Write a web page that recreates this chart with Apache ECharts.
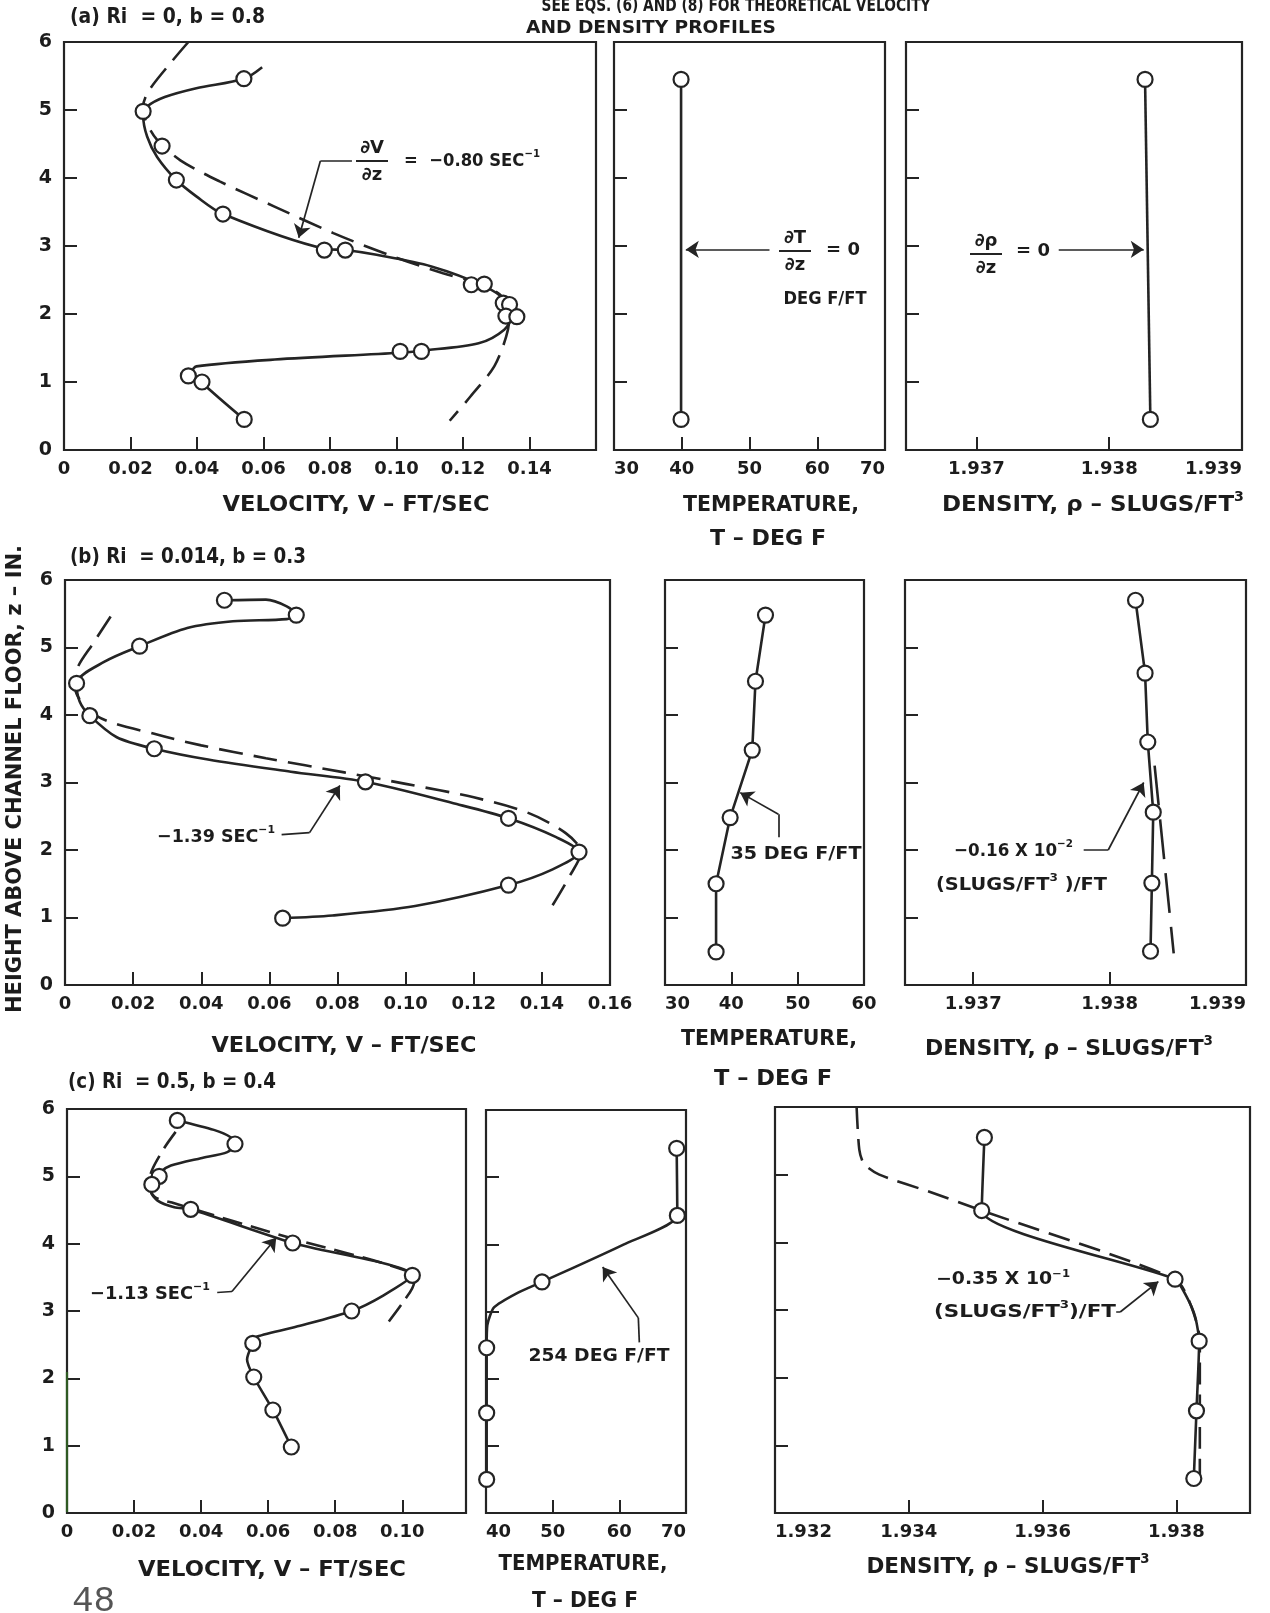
<!DOCTYPE html>
<html>
<head>
<meta charset="utf-8">
<script src="https://cdn.jsdelivr.net/npm/echarts@6/dist/echarts.min.js"></script>
<style>
  html, body { margin: 0; padding: 0; background: #ffffff; }
  #chart { width: 1270px; height: 1613px; }
</style>
</head>
<body>
<div id="chart"></div>
<script>
// Stratified channel flow profiles: velocity, temperature and density versus
// height above the channel floor (inches). Points are measurements, solid lines
// are faired through them, dashed lines are the theoretical profiles.

// ---------- (a) Ri = 0, b = 0.8 ----------
const aVelPoints = [[0.0541,5.46],[0.0238,4.98],[0.0295,4.47],[0.0338,3.97],[0.0478,3.47],[0.0783,2.94],[0.0846,2.94],[0.1225,2.43],[0.1264,2.44],[0.1321,2.16],[0.1340,2.14],[0.1329,1.97],[0.1362,1.96],[0.1011,1.45],[0.1075,1.45],[0.0374,1.09],[0.0415,1.00],[0.0542,0.45]];
const aVelFaired = [[0.0596,5.63],[0.0541,5.46],[0.0398,5.32],[0.0303,5.19],[0.0250,5.05],[0.0238,4.92],[0.0250,4.61],[0.0280,4.31],[0.0338,3.97],[0.0398,3.73],[0.0478,3.47],[0.0783,2.96],[0.0846,2.94],[0.0940,2.87],[0.1105,2.70],[0.1264,2.41],[0.1330,2.19],[0.1348,1.99],[0.1324,1.77],[0.1247,1.57],[0.1075,1.46],[0.1011,1.43],[0.0634,1.33],[0.0398,1.23],[0.0386,1.16],[0.0415,0.99],[0.0542,0.45]];
const aVelTheory = [[0.0374,6.00],[0.0327,5.73],[0.0256,5.29],[0.0238,5.05],[0.0245,4.85],[0.0280,4.56],[0.0350,4.26],[0.0468,3.95],[0.0633,3.58],[0.0810,3.19],[0.0987,2.85],[0.1140,2.60],[0.1247,2.45],[0.1317,2.26],[0.1340,1.97],[0.1330,1.67],[0.1294,1.23],[0.1223,0.79],[0.1160,0.43]];
const aTempPoints = [[39.9,5.45],[39.9,0.45]];
const aDensPoints = [[1.93827,5.45],[1.93831,0.45]];

// ---------- (b) Ri = 0.014, b = 0.3 ----------
const bVelPoints = [[0.0468,5.70],[0.0679,5.48],[0.0219,5.02],[0.0034,4.47],[0.0073,3.99],[0.0262,3.50],[0.0882,3.01],[0.1302,2.47],[0.1509,1.97],[0.1302,1.48],[0.0639,0.99]];
const bVelFaired = [[0.0468,5.70],[0.0590,5.71],[0.0651,5.61],[0.0679,5.48],[0.0651,5.42],[0.0493,5.39],[0.0359,5.29],[0.0219,5.02],[0.0116,4.79],[0.0034,4.47],[0.0043,4.20],[0.0073,3.99],[0.0152,3.67],[0.0262,3.50],[0.0420,3.34],[0.0663,3.16],[0.0882,3.01],[0.1150,2.68],[0.1302,2.47],[0.1442,2.19],[0.1509,1.97],[0.1430,1.71],[0.1302,1.48],[0.1028,1.17],[0.0785,1.03],[0.0639,0.99]];
const bVelTheory = [[0.0134,5.46],[0.0085,5.08],[0.0034,4.66],[0.0030,4.40],[0.0095,3.98],[0.0270,3.71],[0.0400,3.55],[0.0590,3.36],[0.0820,3.15],[0.1000,2.98],[0.1200,2.78],[0.1360,2.55],[0.1470,2.25],[0.1515,1.97],[0.1480,1.60],[0.1430,1.17]];
const bTempPoints = [[45.15,5.48],[43.64,4.50],[43.15,3.48],[39.82,2.48],[37.70,1.50],[37.70,0.49]];
const bDensPoints = [[1.93819,5.70],[1.93826,4.62],[1.93828,3.60],[1.93832,2.56],[1.93831,1.51],[1.93830,0.50]];
const bDensTheory = [[1.93833,3.25],[1.93847,0.47]];

// ---------- (c) Ri = 0.5, b = 0.4 ----------
const cVelPoints = [[0.0329,5.83],[0.0501,5.48],[0.0275,5.00],[0.0253,4.88],[0.0369,4.51],[0.0673,4.01],[0.1030,3.53],[0.0849,3.00],[0.0554,2.52],[0.0557,2.02],[0.0614,1.53],[0.0669,0.98]];
const cVelFaired = [[0.0329,5.83],[0.0438,5.69],[0.0488,5.58],[0.0501,5.48],[0.0478,5.36],[0.0399,5.27],[0.0310,5.16],[0.0278,5.06],[0.0270,4.95],[0.0253,4.88],[0.0250,4.77],[0.0270,4.64],[0.0320,4.54],[0.0369,4.51],[0.0673,4.01],[0.1030,3.53],[0.0943,3.23],[0.0849,3.00],[0.0695,2.78],[0.0567,2.62],[0.0554,2.52],[0.0537,2.28],[0.0557,2.02],[0.0614,1.53],[0.0669,0.98]];
const cVelTheory = [[0.0324,5.66],[0.0290,5.42],[0.0255,5.11],[0.0245,4.92],[0.0260,4.70],[0.0320,4.60],[0.0670,4.08],[0.1010,3.60],[0.1035,3.42],[0.1005,3.15],[0.0953,2.80]];
const cTempPoints = [[68.6,5.43],[68.7,4.43],[48.4,3.44],[40.1,2.46],[40.1,1.49],[40.1,0.50]];
const cTempFaired = [[68.6,5.43],[68.7,4.43],[60.7,4.00],[48.4,3.44],[44.6,3.27],[41.2,3.06],[40.2,2.80],[40.1,2.46],[40.1,1.49],[40.1,0.50]];
const cDensPoints = [[1.93513,5.55],[1.93509,4.47],[1.93798,3.455],[1.93834,2.54],[1.93830,1.51],[1.93826,0.51]];
const cDensFaired = [[1.93513,5.55],[1.93509,4.47],[1.93798,3.455],[1.93815,3.20],[1.93828,2.90],[1.93834,2.54],[1.93830,1.51],[1.93826,0.51]];
const cDensTheory = [[1.93322,6.00],[1.93326,5.37],[1.93333,5.16],[1.93356,5.00],[1.93433,4.74],[1.93509,4.47],[1.93798,3.455],[1.93822,3.06],[1.93835,2.54],[1.93835,0.55]];

// ---------- axis ticks and tick labels ----------
const heightTicks = [1, 2, 3, 4, 5];
const heightLabels = [0, 1, 2, 3, 4, 5, 6];
const velTicksAB = [0.02, 0.04, 0.06, 0.08, 0.10, 0.12, 0.14];
const velLabelsA = [0, 0.02, 0.04, 0.06, 0.08, 0.10, 0.12, 0.14];
const velLabelsB = [0, 0.02, 0.04, 0.06, 0.08, 0.10, 0.12, 0.14, 0.16];
const velTicksC = [0.02, 0.04, 0.06, 0.08, 0.10];
const velLabelsC = [0, 0.02, 0.04, 0.06, 0.08, 0.10];
const tempTicksA = [40, 50, 60];
const tempLabelsA = [30, 40, 50, 60, 70];
const tempTicksB = [40, 50];
const tempLabelsB = [30, 40, 50, 60];
const tempTicksC = [50, 60];
const tempLabelsC = [40, 50, 60, 70];
const densTicksAB = [1.937, 1.938];
const densLabelsAB = [1.937, 1.938, 1.939];
const densTicksC = [1.934, 1.936, 1.938];
const densLabelsC = [1.932, 1.934, 1.936, 1.938];

// ---------- styling ----------
const INK = '#242424';
const TEXT = '#1c1c1c';
const FAMILY = '"DejaVu Sans", Lato, sans-serif';
const font = (size, weight) => (weight || 'bold') + ' ' + size + 'px ' + FAMILY;

// panel boxes: [left, top, width, height]
const boxes = [
  [64, 42, 532, 408], [614, 42, 271, 408], [906, 42, 336, 408],
  [65, 580, 545, 405], [665, 580, 199, 405], [905, 580, 341, 405],
  [67, 1109, 399, 404], [486, 1110, 200, 403], [775, 1107, 475, 406]
];

const fmtVel = v => (Math.abs(v) < 1e-9 ? '0' : v.toFixed(2));
const fmtTemp = v => String(Math.round(v));
const fmtDens = v => v.toFixed(3);

const xSpecs = [
  { min: 0, max: 0.16, ticks: velTicksAB, labels: velLabelsA, fmt: fmtVel },
  { min: 30, max: 70, ticks: tempTicksA, labels: tempLabelsA, fmt: fmtTemp, alignMin: 'left', alignMax: 'right' },
  { min: 1.93647, max: 1.939, ticks: densTicksAB, labels: densLabelsAB, fmt: fmtDens, alignMax: 'right' },
  { min: 0, max: 0.16, ticks: velTicksAB, labels: velLabelsB, fmt: fmtVel },
  { min: 30, max: 60, ticks: tempTicksB, labels: tempLabelsB, fmt: fmtTemp, alignMin: 'left' },
  { min: 1.9365, max: 1.939, ticks: densTicksAB, labels: densLabelsAB, fmt: fmtDens, alignMax: 'right' },
  { min: 0, max: 0.119, ticks: velTicksC, labels: velLabelsC, fmt: fmtVel },
  { min: 40, max: 70, ticks: tempTicksC, labels: tempLabelsC, fmt: fmtTemp, alignMin: 'left', alignMax: 'right' },
  { min: 1.932, max: 1.9391, ticks: densTicksC, labels: densLabelsC, fmt: fmtDens, alignMin: 'left' }
];
const showHeightLabels = [true, false, false, true, false, false, true, false, false];

const grids = boxes.map(b => ({
  left: b[0], top: b[1], width: b[2], height: b[3],
  show: true, borderColor: INK, borderWidth: 2.2, backgroundColor: 'transparent',
  containLabel: false, outerBoundsMode: 'none'
}));

const xAxes = xSpecs.map((s, i) => ({
  type: 'value', gridIndex: i, min: s.min, max: s.max,
  axisLine: { show: false }, splitLine: { show: false },
  axisTick: { show: true, inside: true, length: 13, customValues: s.ticks, lineStyle: { color: INK, width: 2 } },
  axisLabel: {
    show: true, customValues: s.labels, formatter: s.fmt, margin: 10,
    color: TEXT, fontFamily: FAMILY, fontWeight: 'bold', fontSize: 18,
    alignMinLabel: s.alignMin || 'center', alignMaxLabel: s.alignMax || 'center'
  }
}));

const yAxes = boxes.map((b, i) => ({
  type: 'value', gridIndex: i, min: 0, max: 6,
  axisLine: { show: false }, splitLine: { show: false },
  axisTick: { show: true, inside: true, length: 13, customValues: heightTicks, lineStyle: { color: INK, width: 2 } },
  axisLabel: {
    show: showHeightLabels[i], customValues: heightLabels, margin: 12,
    color: TEXT, fontFamily: FAMILY, fontWeight: 'bold', fontSize: 19
  }
}));

// ---------- series helpers ----------
function curve(g, data, smooth, dash) {
  return {
    type: 'line', xAxisIndex: g, yAxisIndex: g, data: data,
    smooth: smooth, symbol: 'none', showSymbol: false, silent: true, z: 2,
    lineStyle: { color: INK, width: 2.6, type: dash || 'solid', opacity: 1 }
  };
}
function dots(g, data) {
  return {
    type: 'scatter', xAxisIndex: g, yAxisIndex: g, data: data, silent: true, z: 5,
    symbol: 'circle', symbolSize: 15,
    itemStyle: { color: '#ffffff', borderColor: INK, borderWidth: 2.2, opacity: 1 }
  };
}
function legs(g, segs) {
  return {
    type: 'lines', coordinateSystem: 'cartesian2d', xAxisIndex: g, yAxisIndex: g,
    silent: true, z: 3, symbol: ['none', 'none'],
    lineStyle: { color: INK, width: 1.7, opacity: 1, curveness: 0 },
    data: segs.map(c => ({ coords: c }))
  };
}
function arrows(g, segs) {
  return {
    type: 'lines', coordinateSystem: 'cartesian2d', xAxisIndex: g, yAxisIndex: g,
    silent: true, z: 3, symbol: ['none', 'arrow'], symbolSize: 13,
    lineStyle: { color: INK, width: 1.7, opacity: 1, curveness: 0 },
    itemStyle: { color: INK },
    data: segs.map(c => ({ coords: c }))
  };
}

const series = [
  // (a)
  curve(0, aVelTheory, 0.3, [24, 11]), curve(0, aVelFaired, 0.3), dots(0, aVelPoints),
  legs(0, [[[0.0866, 4.25], [0.0771, 4.25]]]), arrows(0, [[[0.0771, 4.25], [0.0706, 3.12]]]),
  curve(1, aTempPoints, false), dots(1, aTempPoints),
  arrows(1, [[[52.95, 2.95], [40.6, 2.95]]]),
  curve(2, aDensPoints, false), dots(2, aDensPoints),
  arrows(2, [[[1.93762, 2.95], [1.93826, 2.95]]]),
  // (b)
  curve(3, bVelTheory, 0.3, [24, 11]), curve(3, bVelFaired, 0.3), dots(3, bVelPoints),
  legs(3, [[[0.0636, 2.228], [0.0718, 2.258]]]), arrows(3, [[[0.0718, 2.258], [0.0807, 2.956]]]),
  curve(4, bTempPoints, false), dots(4, bTempPoints),
  legs(4, [[[47.1, 2.19], [47.1, 2.53]]]), arrows(4, [[[47.1, 2.53], [41.34, 2.85]]]),
  curve(5, bDensTheory, false, [40, 14]), curve(5, bDensPoints, false), dots(5, bDensPoints),
  legs(5, [[[1.93781, 2.0], [1.93799, 2.0]]]), arrows(5, [[[1.93799, 2.0], [1.93825, 3.0]]]),
  // (c)
  curve(6, cVelTheory, 0.3, [20, 9]), curve(6, cVelFaired, 0.25), dots(6, cVelPoints),
  legs(6, [[[0.0448, 3.275], [0.0492, 3.29]]]), arrows(6, [[[0.0492, 3.29], [0.0624, 4.087]]]),
  curve(7, cTempFaired, 0.2), dots(7, cTempPoints),
  legs(7, [[[63.0, 2.54], [62.85, 2.905]]]), arrows(7, [[[62.85, 2.905], [57.5, 3.664]]]),
  curve(8, cDensTheory, 0.25, [22, 10]), curve(8, cDensFaired, 0.2), dots(8, cDensPoints),
  legs(8, [[[1.93710, 2.97], [1.93716, 2.97]]]), arrows(8, [[[1.93716, 2.97], [1.93773, 3.42]]])
];

// ---------- text helpers ----------
const measureCtx = document.createElement('canvas').getContext('2d');
function widthOf(str, f) { measureCtx.font = f; return measureCtx.measureText(str).width; }

function label(x, y, str, size, align, extra) {
  return Object.assign({
    type: 'text', x: x, y: y, z: 20, silent: true,
    style: {
      text: str, font: font(size), fill: TEXT,
      textAlign: align || 'left', textVerticalAlign: 'middle',
      align: align || 'left', verticalAlign: 'middle'
    }
  }, extra || {});
}
// text at a given size, stretched or squeezed horizontally to span the given width
function fitLabel(x, y, str, size, span, align, extra) {
  const k = span / widthOf(str, font(size));
  return label(x, y, str, size, align, Object.assign({ scaleX: k }, extra || {}));
}
// runs: [[text, relative size, relative raise]] laid out left to right, scaled to span
function fitRun(x, y, parts, size, span, align) {
  const sizes = parts.map(p => size * p[1]);
  const widths = parts.map((p, i) => widthOf(p[0], font(sizes[i])));
  const total = widths.reduce((a, b) => a + b, 0);
  const k = span ? span / total : 1;
  let cx = align === 'center' ? x - total * k / 2 : (align === 'right' ? x - total * k : x);
  const out = [];
  parts.forEach((p, i) => {
    out.push(label(cx, y - (p[2] || 0) * size, p[0], sizes[i], 'left', { scaleX: k }));
    cx += widths[i] * k;
  });
  return out;
}
function fraction(cx, cy, top, bottom, half) {
  return [
    label(cx, cy - 13, top, 18, 'center'),
    { type: 'line', z: 20, silent: true, shape: { x1: cx - half, y1: cy, x2: cx + half, y2: cy }, style: { stroke: INK, lineWidth: 2 } },
    label(cx, cy + 14, bottom, 18, 'center')
  ];
}
const SUP = 0.62;      // superscript size relative to the line
const RAISE = 0.36;    // superscript lift relative to the line size

const texts = [].concat(
  // header note
  [fitLabel(736, 7, 'SEE EQS. (6) AND (8) FOR THEORETICAL VELOCITY', 17, 389, 'center'),
   fitLabel(651, 28, 'AND DENSITY PROFILES', 18, 250, 'center')],
  // panel titles
  [fitLabel(70, 18, '(a) Ri  = 0, b = 0.8', 21, 195),
   fitLabel(70, 558, '(b) Ri  = 0.014, b = 0.3', 21, 236),
   fitLabel(68, 1083, '(c) Ri  = 0.5, b = 0.4', 21, 208)],
  // axis titles, row (a)
  [fitLabel(356, 505, 'VELOCITY, V \u2013 FT/SEC', 22, 267, 'center'),
   fitLabel(771, 505, 'TEMPERATURE,', 22, 176, 'center'),
   fitLabel(768, 539, 'T \u2013 DEG F', 22, 116, 'center')],
  fitRun(1093, 505, [['DENSITY, \u03c1 \u2013 SLUGS/FT', 1, 0], ['3', SUP, RAISE]], 22, 302, 'center'),
  // axis titles, row (b)
  [fitLabel(344, 1046, 'VELOCITY, V \u2013 FT/SEC', 22, 265, 'center'),
   fitLabel(769, 1039, 'TEMPERATURE,', 22, 176, 'center'),
   fitLabel(773, 1079, 'T \u2013 DEG F', 22, 118, 'center')],
  fitRun(1069, 1049, [['DENSITY, \u03c1 \u2013 SLUGS/FT', 1, 0], ['3', SUP, RAISE]], 22, 288, 'center'),
  // axis titles, row (c)
  [fitLabel(272, 1570, 'VELOCITY, V \u2013 FT/SEC', 22, 268, 'center'),
   fitLabel(583, 1564, 'TEMPERATURE,', 22, 169, 'center'),
   fitLabel(585, 1601, 'T \u2013 DEG F', 22, 106, 'center')],
  fitRun(1008, 1567, [['DENSITY, \u03c1 \u2013 SLUGS/FT', 1, 0], ['3', SUP, RAISE]], 22, 283, 'center'),
  // shared height axis title
  [fitLabel(15, 779, 'HEIGHT ABOVE CHANNEL FLOOR, z \u2013 IN.', 22, 468, 'center', { rotation: Math.PI / 2 })],
  // (a) annotations
  fraction(372, 161, '\u2202V', '\u2202z', 16),
  fitRun(404, 161, [['=  \u22120.80 SEC', 1, 0], ['\u22121', SUP, RAISE]], 18, 136),
  fraction(795, 251, '\u2202T', '\u2202z', 16),
  [label(843, 250, '= 0', 18, 'center'), fitLabel(825, 299, 'DEG F/FT', 18, 83, 'center')],
  fraction(986, 254, '\u2202\u03c1', '\u2202z', 16),
  [label(1033, 251, '= 0', 18, 'center')],
  // (b) annotations
  fitRun(157, 837, [['\u22121.39 SEC', 1, 0], ['\u22121', SUP, RAISE]], 18, 118),
  [fitLabel(796, 854, '35 DEG F/FT', 18, 131, 'center')],
  fitRun(954, 851, [['\u22120.16 X 10', 1, 0], ['\u22122', SUP, RAISE]], 18, 119),
  fitRun(936, 885, [['(SLUGS/FT', 1, 0], ['3', SUP, RAISE], [' )/FT', 1, 0]], 18, 171),
  // (c) annotations
  fitRun(90, 1294, [['\u22121.13 SEC', 1, 0], ['\u22121', SUP, RAISE]], 18, 120),
  [fitLabel(599, 1357, '254 DEG F/FT', 17, 141, 'center')],
  fitRun(936, 1280, [['\u22120.35 X 10', 1, 0], ['\u22121', SUP, RAISE]], 17, 134),
  fitRun(934, 1312, [['(SLUGS/FT', 1, 0], ['3', SUP, RAISE], [')/FT', 1, 0]], 18, 182),
  // page number
  [{ type: 'text', x: 72, y: 1601, z: 20, silent: true,
     style: { text: '48', font: 'normal 36px "Liberation Mono", "DejaVu Sans Mono", monospace', fill: '#555555',
              textAlign: 'left', textVerticalAlign: 'middle', align: 'left', verticalAlign: 'middle' } }],
  // faded green ink on the lower part of the (c) velocity frame
  [{ type: 'line', z: 21, silent: true, shape: { x1: 67, y1: 1372, x2: 67, y2: 1512 },
     style: { stroke: '#2f5a23', lineWidth: 2.2 } }]
);

const chart = echarts.init(document.getElementById('chart'), null, { renderer: 'canvas' });
chart.setOption({
  animation: false,
  backgroundColor: '#ffffff',
  grid: grids,
  xAxis: xAxes,
  yAxis: yAxes,
  series: series,
  graphic: { elements: texts }
});
</script>
</body>
</html>
